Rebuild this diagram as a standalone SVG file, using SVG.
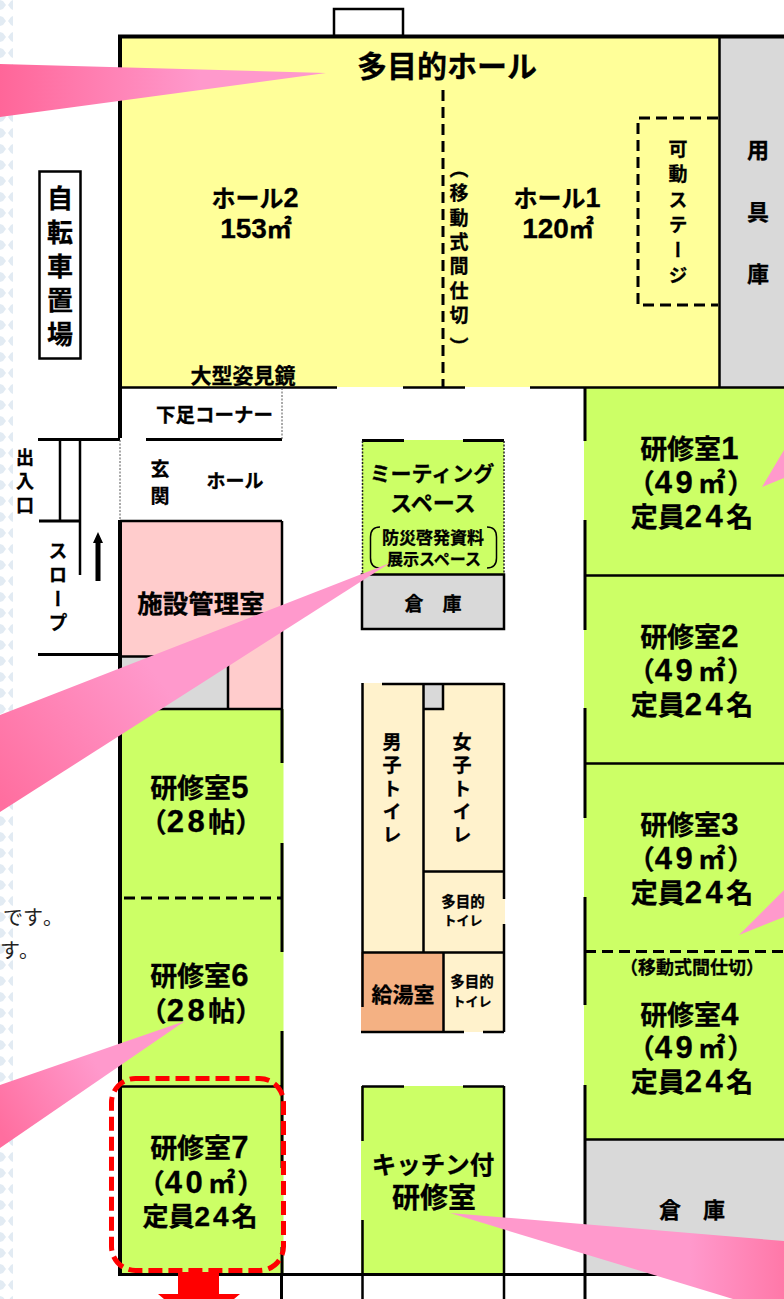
<svg xmlns="http://www.w3.org/2000/svg" width="784" height="1299" viewBox="0 0 784 1299">
<style>
text{font-family:"Noto Sans CJK JP","Noto Sans",sans-serif;font-weight:700;fill:#000;text-anchor:middle;stroke:#000;stroke-width:.3px}
text.n{font-size:20px;font-weight:400;fill:#222;text-anchor:start;stroke:none}
.d{font-family:"Liberation Sans",sans-serif;font-size:31px;letter-spacing:3.5px}
.r{font-size:27px}
.v{writing-mode:vertical-rl;text-anchor:start}
.w{fill:none;stroke:#000;stroke-width:3}
.t{fill:none;stroke:#000;stroke-width:2.5}
.dash{fill:none;stroke:#000;stroke-width:3;stroke-dasharray:11 6}
.dot{fill:none;stroke:#555;stroke-width:1;stroke-dasharray:2 1.5}
.g{fill:#CCFF66}.y{fill:#FFFF99}.s{fill:#D9D9D9}.c{fill:#FFF2CC}
</style>
<defs>
<pattern id="strip" width="16" height="16" patternUnits="userSpaceOnUse">
<path d="M0 0L3 1L6 5L3 9L0 10ZM13 0V10L11 9L8 5L11 1Z" fill="#E2EBF3"/>
</pattern>
<linearGradient id="p1" gradientUnits="userSpaceOnUse" x1="0" y1="0" x2="200" y2="0"><stop offset="0" stop-color="#FF6699"/><stop offset="1" stop-color="#FF99CC"/></linearGradient>
<linearGradient id="p2" gradientUnits="userSpaceOnUse" x1="0" y1="800" x2="160" y2="680"><stop offset="0" stop-color="#FF6E9F"/><stop offset="1" stop-color="#FF99CC"/></linearGradient>
<linearGradient id="p3" gradientUnits="userSpaceOnUse" x1="0" y1="1130" x2="100" y2="1070"><stop offset="0" stop-color="#FF6E9F"/><stop offset="1" stop-color="#FF99CC"/></linearGradient>
<linearGradient id="p4" gradientUnits="userSpaceOnUse" x1="784" y1="0" x2="690" y2="0"><stop offset="0" stop-color="#FF78A8"/><stop offset="1" stop-color="#FF99CC"/></linearGradient>
</defs>
<rect width="784" height="1299" fill="#fff"/>
<rect x="0" y="0" width="14" height="1299" fill="url(#strip)"/>
<text id="note1" class="n" x="3" y="925">です<tspan dx="2">。</tspan></text>
<text id="note2" class="n" x="0" y="958">す<tspan dx="1">。</tspan></text>

<g id="fills">
<rect class="y" x="120" y="36" width="599" height="351"/>
<rect class="s" x="719" y="36" width="65" height="351"/>
<rect x="120" y="521" width="162" height="188" fill="#FFCCCC"/>
<rect class="s" x="120" y="656" width="108" height="53"/>
<rect class="g" x="120" y="709" width="163.500" height="565"/>
<rect class="g" x="584" y="387" width="200" height="752"/>
<rect class="s" x="585" y="1139" width="199" height="135"/>
<rect class="g" x="362" y="440" width="142" height="134"/>
<rect class="s" x="362" y="574" width="142" height="55"/>
<rect class="c" x="362" y="683" width="143" height="349"/>
<rect class="s" x="423" y="683" width="20" height="26"/>
<rect x="361" y="952" width="82" height="81" fill="#F4B183"/>
<rect class="g" x="361" y="1086" width="143" height="188"/>
</g>

<g id="connectors">
<rect x="334" y="9" width="69" height="27" fill="#fff" stroke="#000" stroke-width="2.500"/>
<path class="w" d="M118 36.500H784M120 36V438M120 520V1275" style="stroke-width:4"/>
<path class="t" d="M120 387.500H337M403 387.500H465M530 387.500H784M719.500 37V387"/>
<path class="w" d="M38 439.500H120M146 439.500H282M39 521H80M38 654.500H120"/>
<path class="t" d="M60 439V521M80 439V575"/>
<path d="M95.500 581V543H93L98 532L103 543H100.500V581Z" fill="#000"/>
<path class="dot" d="M282 388V439M120 440V520"/>
<path class="t" d="M120 521H282M282 521V709M120 656.500H228M228 656V709M120 709H282"/>
<path class="w" d="M282 709V763M282 843V952M282 1031V1168M282 1247V1274"/>
<path class="t" d="M120 1086.500H282"/>
<path class="dash" d="M124 898H282"/>
<path class="w" d="M585 387V441M585 520V630M585 708V818M585 897V1005M585 1085V1299"/>
<path class="t" d="M585 575.500H784M585 763.500H784M585 1139.500H784"/>
<path class="dash" d="M585 951.500H784"/>
<path class="w" d="M362 440.500H404M463 440.500H504"/>
<path class="dot" d="M362.500 441V574M504 441V574" style="stroke:#222;stroke-width:1.500"/>
<path class="t" d="M362 574.500H504V629H362ZM362 574V629"/>
<path class="t" d="M362.500 683V1007M382 684H504M504 683V899M504 924V1032M423.500 683V952M423 709H443V683M423 871.500H504M362 952.500H504M443.500 952V1032M361 1032H464M483 1032H504"/>
<path class="t" d="M362.500 1086V1141M362.500 1220V1299M362 1086.500H404M463 1086.500H504M504 1086V1299"/>
<path class="w" d="M118 1274.500H784M281.500 1274V1299"/>
<path class="dash" d="M443 90V387M718 118H638V305H718"/>
<path class="t" style="stroke-width:1.500" d="M380 527Q370.500 527 370.500 537V558Q370.500 568 380 568M487 527Q496.500 527 496.500 537V558Q496.500 568 487 568"/>
<rect x="39.500" y="171.500" width="41" height="187" fill="#fff" stroke="#000" stroke-width="2.500"/>
</g>

<g id="hall"><text x="447" y="77" style="font-size:30px">多目的ホール</text>
<text x="255" y="207" style="font-size:24px">ホール<tspan class="d" style="font-size:27px;letter-spacing:0">2</tspan></text>
<text x="256" y="238" style="font-size:25px"><tspan class="d" style="font-size:28px;letter-spacing:0">153</tspan>㎡</text>
<text x="557" y="207" style="font-size:24px">ホール<tspan class="d" style="font-size:27px;letter-spacing:0">1</tspan></text>
<text x="558" y="238" style="font-size:25px"><tspan class="d" style="font-size:28px;letter-spacing:0">120</tspan>㎡</text>
<text x="243" y="383" style="font-size:21px">大型姿見鏡</text>
<text class="v" x="459" y="159" style="font-size:19px;letter-spacing:5.400px">（移動式間仕切<tspan dy="7">）</tspan></text>
<text class="v" x="678" y="139" style="font-size:19px;letter-spacing:6.400px">可動ステージ</text>
<text class="v" x="758" y="139" style="font-size:22px;letter-spacing:40px">用具庫</text></g>

<g id="entrance"><text class="v" x="60" y="185" style="font-size:26px;letter-spacing:8px">自転車置場</text>
<text class="v" x="25" y="448" style="font-size:18px;letter-spacing:6px">出入口</text>
<text class="v" x="58" y="541" style="font-size:19px;letter-spacing:5px">スロープ</text>
<text x="214.500" y="422" style="font-size:19.500px">下足コーナー</text>
<text class="v" x="160" y="459" style="font-size:19px;letter-spacing:8px">玄関</text>
<text x="235" y="488" style="font-size:19px">ホール</text>
<text x="201" y="613" style="font-size:25.500px">施設管理室</text></g>

<g id="meeting"><text x="432" y="481" style="font-size:21px">ミーティング</text>
<text x="433" y="511" style="font-size:22px">スペース</text>
<text x="433" y="544" style="font-size:17px">防災啓発資料</text>
<text x="434" y="565" style="font-size:16px">展示スペース</text>
<text x="433" y="611" style="font-size:19px">倉　庫</text></g>

<g id="toilets"><text class="v" x="392" y="732" style="font-size:19px;letter-spacing:4.400px">男子トイレ</text>
<text class="v" x="462" y="732" style="font-size:19px;letter-spacing:4.400px">女子トイレ</text>
<text x="463" y="907" style="font-size:14.500px">多目的</text>
<text x="463" y="925" style="font-size:13px">トイレ</text>
<text x="403" y="1002" style="font-size:21px">給湯室</text>
<text x="472" y="987" style="font-size:14.500px">多目的</text>
<text x="472" y="1006" style="font-size:13px">トイレ</text></g>

<g id="kitchen"><text x="433" y="1174" style="font-size:24.500px">キッチン付</text>
<text x="434" y="1208" style="font-size:28px">研修室</text></g>

<g id="room1"><text class="r" x="691" y="459">研修室<tspan class="d">1</tspan></text>
<text class="r" x="691" y="493">（<tspan class="d">49</tspan><tspan dx="2">㎡</tspan><tspan dx="2">）</tspan></text>
<text class="r" x="692" y="527">定員<tspan class="d">24</tspan>名</text></g>
<g id="room2"><text class="r" x="691" y="647">研修室<tspan class="d">2</tspan></text>
<text class="r" x="691" y="681">（<tspan class="d">49</tspan><tspan dx="2">㎡</tspan><tspan dx="2">）</tspan></text>
<text class="r" x="692" y="715">定員<tspan class="d">24</tspan>名</text></g>
<g id="room3"><text class="r" x="691" y="835">研修室<tspan class="d">3</tspan></text>
<text class="r" x="691" y="869">（<tspan class="d">49</tspan><tspan dx="2">㎡</tspan><tspan dx="2">）</tspan></text>
<text class="r" x="692" y="903">定員<tspan class="d">24</tspan>名</text></g>
<g id="room4"><text x="692" y="974" style="font-size:18px">（移動式間仕切）</text>
<text class="r" x="691" y="1025">研修室<tspan class="d">4</tspan></text>
<text class="r" x="691" y="1058">（<tspan class="d">49</tspan><tspan dx="2">㎡</tspan><tspan dx="2">）</tspan></text>
<text class="r" x="692" y="1092">定員<tspan class="d">24</tspan>名</text></g>
<text id="store" x="692" y="1218" style="font-size:22px">倉　庫</text>
<g id="room5"><text class="r" x="201" y="798">研修室<tspan class="d">5</tspan></text>
<text class="r" x="201" y="832">（<tspan class="d">28</tspan>帖）</text></g>
<g id="room6"><text class="r" x="201" y="986">研修室<tspan class="d">6</tspan></text>
<text class="r" x="201" y="1021">（<tspan class="d">28</tspan>帖）</text></g>
<g id="room7"><text class="r" x="201" y="1158">研修室<tspan class="d">7</tspan></text>
<text class="r" x="201" y="1193">（<tspan class="d">40</tspan><tspan dx="2">㎡</tspan><tspan dx="2">）</tspan></text>
<text class="r" x="200" y="1226" style="font-size:26px">定員<tspan class="d" style="letter-spacing:3px;font-size:28px">24</tspan>名</text></g>

<g id="highlight">
<path d="M178 1272H219V1294H240L234 1299H164L158 1294H178Z" fill="#FF0000"/>
<rect x="111.500" y="1078.500" width="172" height="192" rx="24" fill="none" stroke="#FF0000" stroke-width="5" stroke-dasharray="14 6"/>
</g>
<g id="pointers">
<path d="M0 64L326 73L0 117Z" fill="url(#p1)"/>
<path d="M0 715L390 563L0 812Z" fill="url(#p2)"/>
<path d="M0 1085L185 1021L0 1148Z" fill="url(#p3)"/>
<path d="M450 1213L784 1241V1299H733Z" fill="url(#p4)"/>
<path d="M739 935L784 890V917Z" fill="#FF99CC"/>
<path d="M762 487L784 450V478Z" fill="#FF99CC"/>
</g>
</svg>
